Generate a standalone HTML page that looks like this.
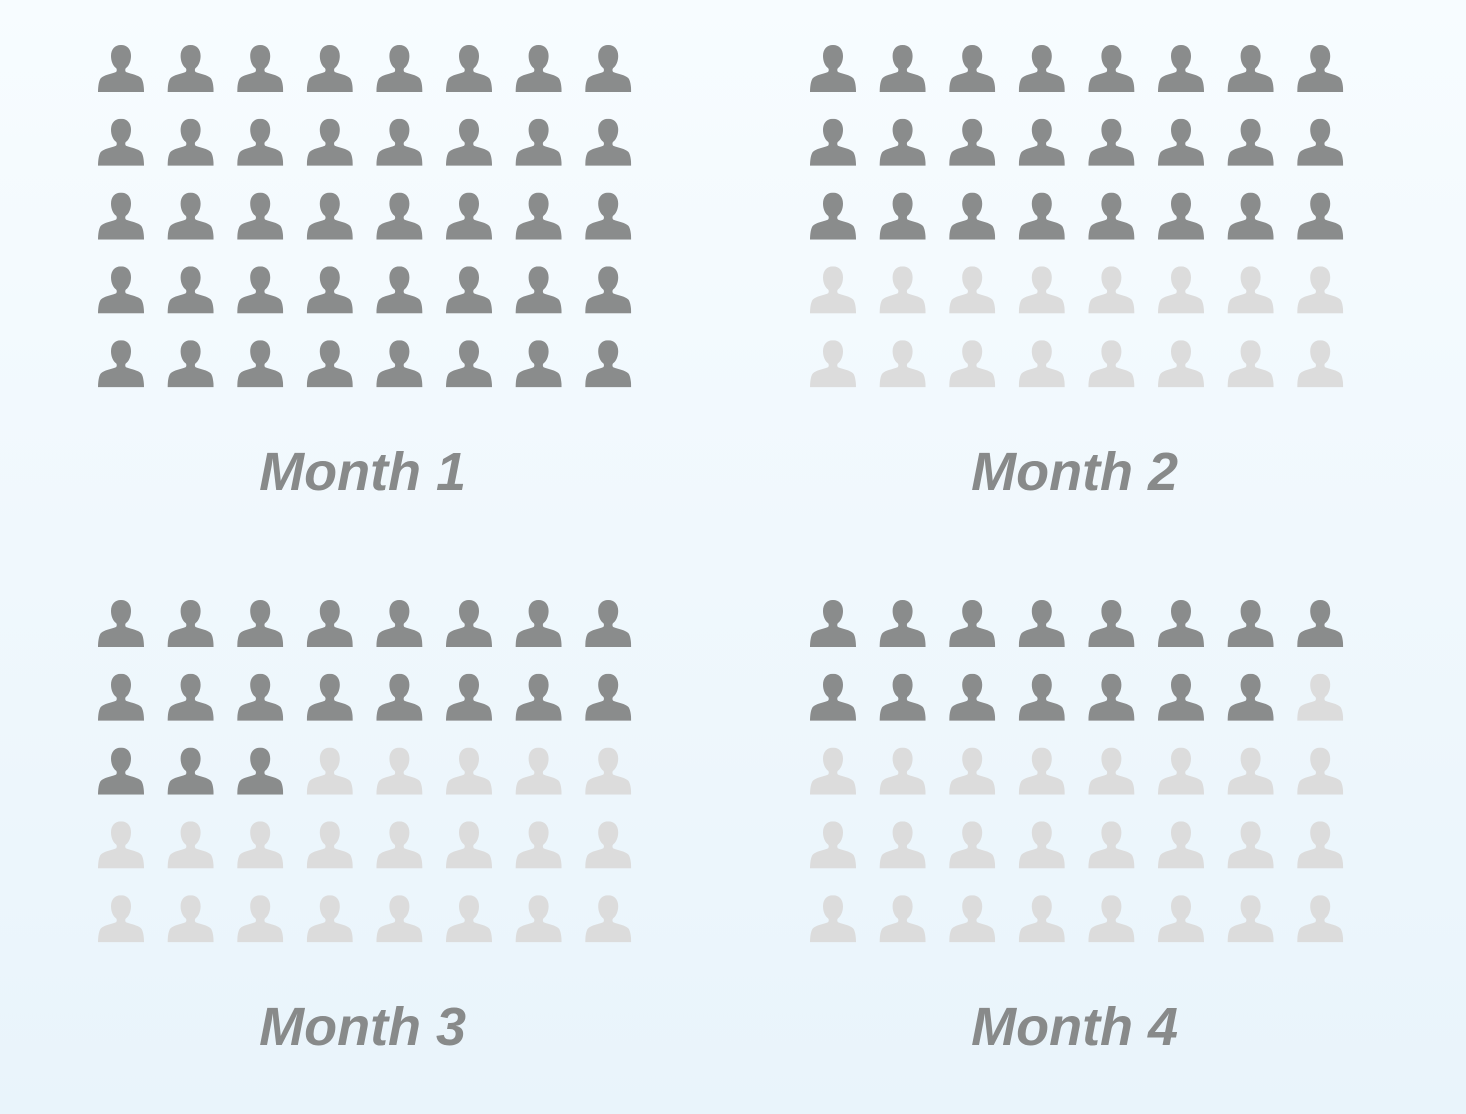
<!DOCTYPE html>
<html><head><meta charset="utf-8">
<style>
html,body{margin:0;padding:0;}
body{width:1466px;height:1114px;overflow:hidden;background:linear-gradient(#f7fcff,#e9f4fb);font-family:"Liberation Sans",sans-serif;}
svg{position:absolute;left:0;top:0;}
</style></head>
<body>
<svg id="chart" width="1466" height="1114">
<defs>
<symbol id="person" viewBox="0 0 46 47">
<path d="M23 0c-6 0-10 4-10 11 0 5 2 10 5 12 1 1 1 3 0 4-5 2-12 3-15 6-2 2-3 8-3 14h46c0-6-1-12-3-14-3-3-10-4-15-6-1-1-1-3 0-4 3-2 5-7 5-12 0-7-4-11-10-11z"/>
</symbol>
</defs>
</svg>
<script>
const months = ["Month 1","Month 2","Month 3","Month 4"];
const filled = [40, 24, 19, 15];
const totalPerPanel = [40, 40, 40, 40];
const svg = document.getElementById('chart');
const NS = 'http://www.w3.org/2000/svg';
const cols = 8;
const panelX = [98, 810, 98, 810];
const panelY = [45, 45, 600, 600];
const dx = 69.6, dy = 73.8;
months.forEach((m, p) => {
  const g = document.createElementNS(NS, 'g');
  
  
  svg.appendChild(g);
  for (let i = 0; i < totalPerPanel[p]; i++) {
    const r = Math.floor(i / cols), c = i % cols;
    const u = document.createElementNS(NS, 'use');
    u.setAttribute('href', '#person');
    u.setAttribute('x', panelX[p] + c * dx);
    u.setAttribute('y', panelY[p] + r * dy);
    u.setAttribute('width', 46);
    u.setAttribute('height', 47);
    u.setAttribute('fill', i < filled[p] ? '#8a8c8c' : '#dcdcdc');
    
    
    g.appendChild(u);
  }
  const t = document.createElementNS(NS, 'text');
  t.setAttribute('x', panelX[p] + 7 * dx / 2 + 23 - 2);
  t.setAttribute('y', panelY[p] + 445);
  t.setAttribute('text-anchor', 'middle');
  t.setAttribute('font-size', '54');
  t.setAttribute('font-style', 'italic');
  t.setAttribute('font-weight', 'bold');
  t.setAttribute('fill', '#888a8a');
  t.setAttribute('font-family', '"Liberation Sans", sans-serif');
  
  
  t.textContent = m;
  g.appendChild(t);
});
</script>
</body></html>
